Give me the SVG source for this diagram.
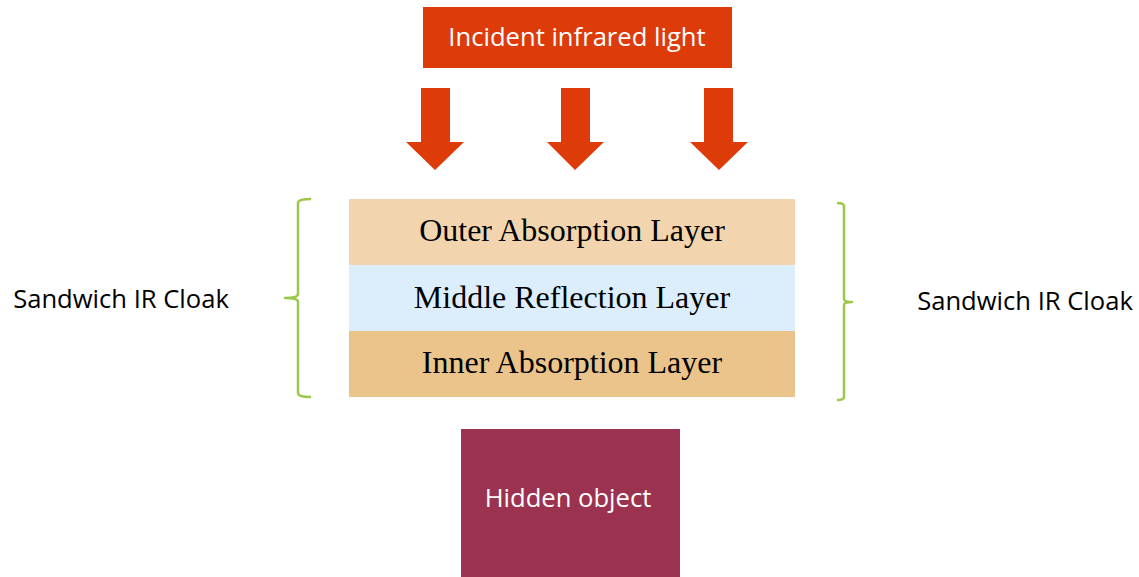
<svg xmlns="http://www.w3.org/2000/svg" width="1139" height="577" viewBox="0 0 1139 577">
<style>
.sans{font-family:"Open Sans","Noto Sans",sans-serif;font-size:25.6px;}
.serif{font-family:"Liberation Serif","Times New Roman",serif;font-size:32px;fill:#000;}
.arrow{fill:#DE3B0B;}
.brace{fill:none;stroke:#9BC848;stroke-width:2.5;stroke-linejoin:round;}
</style>
<rect width="1139" height="577" fill="#fff"/>
<g id="incident">
<rect x="423" y="7" width="309" height="61" fill="#DE3B0B"/>
<text class="sans" x="577" y="46" fill="#fff" text-anchor="middle">Incident infrared light</text>
</g>
<g id="connectors">
<polygon class="arrow" points="421,88 450,88 450,142 464,142 435,170 406,142 421,142"/>
<polygon class="arrow" points="561,88 590,88 590,142 604,142 575,170 547,142 561,142"/>
<polygon class="arrow" points="704,88 733,88 733,142 748,142 719,170 690,142 704,142"/>
</g>
<g id="outer-layer">
<rect x="349" y="199" width="446" height="66" fill="#F2D5AE"/>
<text class="serif" x="572" y="241" text-anchor="middle">Outer Absorption Layer</text>
</g>
<g id="middle-layer">
<rect x="349" y="265" width="446" height="66" fill="#DCEEFB"/>
<text class="serif" x="572" y="308" text-anchor="middle">Middle Reflection Layer</text>
</g>
<g id="inner-layer">
<rect x="349" y="331" width="446" height="66" fill="#EAC48A"/>
<text class="serif" x="572" y="373" text-anchor="middle">Inner Absorption Layer</text>
</g>
<g id="left-brace">
<path class="brace" d="M311,199 Q298,199 298,203 L298,294 Q298,298 285,298 Q298,298 298,302 L298,393 Q298,397 311,397"/>
<text class="sans" x="121" y="308" fill="#000" text-anchor="middle">Sandwich IR Cloak</text>
</g>
<g id="right-brace">
<path class="brace" d="M837,203 Q844,203 844,206 L844,299 Q844,302 852,302 Q844,302 844,305 L844,397 Q844,400 837,400"/>
<text class="sans" x="1025" y="310" fill="#000" text-anchor="middle">Sandwich IR Cloak</text>
</g>
<g id="hidden-object">
<rect x="461" y="429" width="219" height="148" fill="#9B3350"/>
<text class="sans" x="568" y="507" fill="#fff" text-anchor="middle">Hidden object</text>
</g>
</svg>
